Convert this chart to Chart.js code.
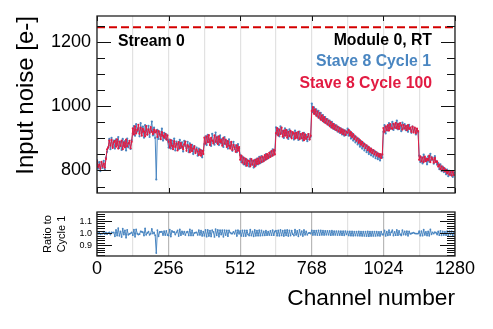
<!DOCTYPE html>
<html>
<head>
<meta charset="utf-8">
<script src="https://cdn.jsdelivr.net/npm/chart.js@4.4.1/dist/chart.umd.min.js"></script>
<style>
    html, body { margin: 0; padding: 0; background: #fff; }
    #wrap { position: relative; width: 493px; height: 329px; }
    #main { position: absolute; left: 0; top: 0; }
    #ratio { position: absolute; left: 0; top: 200px; }
</style>
</head>
<body>
<div id="wrap">
    <canvas id="main" width="493" height="200" style="width:493px;height:200px"></canvas>
    <canvas id="ratio" width="493" height="129" style="width:493px;height:129px"></canvas>
</div>
<script>
/**
 * Input noise per channel, Stave 8, cycle 1 vs cycle 100
 * Values, one sample every 4 channels (32 per ASIC of 128 channels)
 */
const channelStep = 4;
const channels = Array.from({ length: 320 }, (_, i) => i * channelStep);

const cycle1 = [
    832, 806, 826, 798, 824, 808, 830, 803, 840, 858, 872, 898, 866, 901, 874, 893, 868, 897, 879, 904, 870, 889, 864, 898, 876, 891, 862, 899, 872, 886, 867, 894,
    915, 938, 908, 944, 921, 931, 906, 947, 918, 936, 902, 941, 925, 912, 939, 904, 930, 952, 909, 933, 901, 772, 926, 898, 921, 906, 930, 893, 917, 899, 912, 894,
    871, 896, 868, 893, 874, 899, 862, 890, 881, 866, 895, 870, 887, 859, 892, 876, 868, 889, 857, 884, 863, 880, 851, 876, 858, 871, 846, 868, 852, 863, 841, 862,
    882, 906, 879, 911, 888, 897, 876, 914, 892, 880, 918, 886, 905, 879, 909, 884, 898, 873, 904, 881, 892, 868, 897, 872, 886, 861, 889, 866, 878, 857, 882, 868,
    848, 826, 843, 819, 838, 815, 834, 822, 812, 836, 818, 830, 809, 833, 815, 837, 819, 842, 823, 845, 827, 840, 832, 851, 836, 848, 841, 858, 845, 866, 849, 862,
    934, 912, 929, 906, 937, 915, 923, 901, 931, 909, 925, 898, 928, 904, 919, 911, 896, 924, 903, 918, 895, 921, 900, 914, 893, 917, 899, 910, 891, 913, 897, 905,
    1008, 981, 996, 975, 990, 968, 985, 962, 979, 956, 972, 950, 966, 946, 960, 941, 955, 934, 951, 930, 944, 926, 940, 921, 935, 917, 931, 912, 927, 908, 924, 911,
    930, 908, 922, 899, 916, 893, 909, 887, 903, 881, 898, 874, 891, 868, 886, 862, 880, 857, 875, 851, 869, 847, 864, 843, 861, 838, 856, 835, 852, 831, 849, 840,
    920, 941, 915, 936, 924, 947, 929, 938, 951, 926, 943, 932, 955, 928, 946, 936, 922, 949, 931, 944, 925, 939, 920, 942, 928, 917, 936, 922, 931, 912, 926, 918,
    846, 826, 841, 822, 849, 830, 838, 819, 844, 827, 852, 833, 840, 821, 845, 829, 818, 823, 804, 819, 798, 812, 795, 806, 788, 803, 782, 799, 786, 796, 780, 793
];

const cycle100 = [
    829, 811, 818, 806, 827, 812, 821, 809, 836, 866, 871, 893, 877, 895, 870, 888, 892, 874, 897, 868, 890, 876, 893, 866, 887, 872, 896, 875, 884, 892, 869, 889,
    931, 912, 937, 915, 926, 942, 914, 933, 908, 929, 921, 906, 938, 911, 928, 917, 935, 920, 913, 927, 918, 925, 904, 922, 912, 897, 919, 908, 902, 914, 896, 909,
    889, 871, 894, 877, 866, 891, 873, 884, 862, 888, 869, 885, 874, 866, 881, 890, 861, 879, 874, 857, 880, 860, 868, 875, 854, 866, 859, 848, 865, 846, 861, 851,
    902, 883, 906, 888, 910, 879, 901, 893, 884, 909, 889, 903, 882, 906, 888, 895, 877, 901, 883, 896, 873, 891, 877, 868, 889, 864, 880, 871, 858, 878, 861, 873,
    833, 846, 824, 840, 820, 836, 815, 831, 829, 813, 835, 818, 831, 812, 834, 820, 837, 822, 841, 826, 843, 829, 848, 834, 851, 838, 855, 842, 860, 846, 864, 850,
    916, 932, 909, 927, 913, 933, 905, 924, 908, 926, 902, 920, 907, 923, 900, 919, 915, 899, 917, 901, 920, 897, 913, 900, 916, 894, 912, 898, 904, 913, 896, 908,
    985, 997, 976, 990, 970, 984, 964, 978, 958, 971, 953, 966, 948, 960, 943, 955, 938, 950, 933, 945, 929, 940, 925, 936, 921, 932, 917, 928, 913, 925, 910, 921,
    917, 926, 909, 919, 904, 913, 898, 906, 892, 900, 886, 894, 880, 889, 875, 883, 869, 878, 863, 873, 858, 868, 854, 863, 850, 858, 846, 853, 843, 851, 839, 850,
    932, 920, 937, 925, 941, 924, 944, 931, 929, 945, 933, 948, 931, 944, 929, 947, 940, 927, 942, 930, 938, 925, 941, 929, 933, 920, 936, 918, 933, 916, 930, 922,
    833, 844, 828, 840, 826, 843, 829, 836, 832, 846, 826, 841, 835, 824, 839, 826, 828, 812, 818, 804, 813, 800, 808, 797, 802, 791, 798, 787, 795, 784, 797, 786
];

// ratio panel: cycle 1 relative to cycle 100
const ratio = cycle1.map((v, i) => v / cycle100[i]);

const limitLevel = 1245;      // dashed red line
const channelRange = [0, 1280];
const asicEdges = [0, 128, 256, 384, 512, 640, 768, 896, 1024, 1152, 1280];
const channelLabels = [0, 256, 512, 768, 1024, 1280];
const noiseMajor = [800, 1000, 1200];
const noiseMinor = [750, 850, 900, 950, 1050, 1100, 1150, 1250];
const ratioMajor = [0.9, 1.0, 1.1];
const ratioMinor = [0.82, 0.84, 0.86, 0.88, 0.92, 0.94, 0.96, 0.98, 1.02, 1.04, 1.06, 1.08, 1.12, 1.14, 1.16];

const BLUE = '#4a86c1';
const RED = '#e21b42';
const FONT = '"Liberation Sans", Arial, sans-serif';

const pts = arr => arr.map((v, i) => ({ x: channels[i], y: v }));

/**
 * ROOT-style frame with inward tick marks
 */
const frameTicks = {
    id: 'frameTicks',
    afterDatasetsDraw(chart, args, o) {
        const { ctx, chartArea: a, scales } = chart;
        const x = scales.x, y = scales.y;
        ctx.save();
        ctx.strokeStyle = '#111';
        ctx.lineWidth = 1;
        ctx.beginPath();
        const hTick = (v, len) => {
            const p = Math.round(y.getPixelForValue(v)) + 0.5;
            ctx.moveTo(a.left, p); ctx.lineTo(a.left + len, p);
            ctx.moveTo(a.right, p); ctx.lineTo(a.right - len, p);
        };
        o.yMajor.forEach(v => hTick(v, o.majorLen));
        o.yMinor.forEach(v => hTick(v, o.minorLen));
        (o.xMajor || []).forEach(v => {
            const p = Math.round(x.getPixelForValue(v)) + 0.5;
            ctx.moveTo(p, a.bottom); ctx.lineTo(p, a.bottom - o.xLen);
            ctx.moveTo(p, a.top); ctx.lineTo(p, a.top + o.xLen);
        });
        ctx.stroke();
        ctx.lineWidth = 1.3;
        ctx.strokeStyle = '#222';
        ctx.strokeRect(a.left, a.top, a.right - a.left, a.bottom - a.top);
        ctx.restore();
    }
};

/**
 * Panel labels (stream / module / legend text)
 */
const panelText = {
    id: 'panelText',
    afterDraw(chart) {
        const { ctx, chartArea: a } = chart;
        ctx.save();
        ctx.font = 'bold 15.8px ' + FONT;
        ctx.textBaseline = 'middle';
        ctx.textAlign = 'left';
        ctx.fillStyle = '#000';
        ctx.fillText('Stream 0', a.left + 21, a.top + 26);
        ctx.textAlign = 'right';
        ctx.fillText('Module 0, RT', a.right - 23, a.top + 25);
        ctx.fillStyle = BLUE;
        ctx.fillText('Stave 8 Cycle 1', a.right - 24, a.top + 46);
        ctx.fillStyle = RED;
        ctx.fillText('Stave 8 Cycle 100', a.right - 23, a.top + 68);
        ctx.restore();
    }
};

const seriesStyle = color => ({
    borderColor: color, backgroundColor: color, borderWidth: 1,
    pointRadius: 1.1, pointBorderWidth: 0, pointBackgroundColor: color
});

const mainChart = new Chart(document.getElementById('main'), {
    type: 'line',
    data: {
        datasets: [
            { label: 'limit', data: [{ x: channelRange[0], y: limitLevel }, { x: channelRange[1], y: limitLevel }],
              borderColor: '#d40000', borderWidth: 2, borderDash: [8, 4], pointRadius: 0, order: 0 },
            { label: 'Stave 8 Cycle 100', data: pts(cycle100), ...seriesStyle(RED), order: 1 },
            { label: 'Stave 8 Cycle 1', data: pts(cycle1), ...seriesStyle(BLUE), order: 2 }
        ]
    },
    options: {
        responsive: false,
        animation: false,
        events: [],
        layout: { padding: { left: 0, right: 38, top: 16, bottom: 0 } },
        plugins: {
            legend: { display: false },
            tooltip: { enabled: false },
            frameTicks: { yMajor: noiseMajor, yMinor: noiseMinor, majorLen: 14, minorLen: 8, xMajor: channelLabels, xLen: 5 }
        },
        scales: {
            x: {
                type: 'linear', min: channelRange[0], max: channelRange[1],
                ticks: { display: false },
                grid: { color: '#e2e2e2', lineWidth: 1.2, drawTicks: false },
                border: { display: false },
                afterBuildTicks: s => { s.ticks = asicEdges.map(v => ({ value: v })); },
                afterFit: s => { s.height = 7; s.paddingLeft = 0; s.paddingRight = 0; }
            },
            y: {
                min: 730, max: 1280,
                ticks: { font: { family: FONT, size: 18 }, color: '#000', padding: 6, callback: v => String(v) },
                grid: { display: false, drawTicks: false },
                border: { display: false },
                title: { display: true, text: 'Input noise [e-]', align: 'end', color: '#000',
                         font: { family: FONT, size: 24 }, padding: { top: 12, bottom: 0 } },
                afterBuildTicks: s => { s.ticks = noiseMajor.map(v => ({ value: v })); },
                afterFit: s => { s.width = 97; s.paddingTop = 0; s.paddingBottom = 0; }
            }
        }
    },
    plugins: [frameTicks, panelText]
});

const ratioChart = new Chart(document.getElementById('ratio'), {
    type: 'line',
    data: {
        datasets: [
            { label: 'Ratio to Cycle 1', data: pts(ratio), ...seriesStyle(BLUE), pointRadius: 0.9 }
        ]
    },
    options: {
        responsive: false,
        animation: false,
        events: [],
        layout: { padding: { left: 0, right: 38, top: 12, bottom: 0 } },
        plugins: {
            legend: { display: false },
            tooltip: { enabled: false },
            frameTicks: { yMajor: ratioMajor, yMinor: ratioMinor, majorLen: 15, minorLen: 8 }
        },
        scales: {
            x: {
                type: 'linear', min: channelRange[0], max: channelRange[1],
                ticks: {
                    autoSkip: false, maxRotation: 0, padding: 2, color: '#000',
                    font: { family: FONT, size: 18 },
                    callback: v => (channelLabels.includes(v) ? String(v) : '')
                },
                grid: {
                    drawTicks: false, lineWidth: 1.2,
                    color: c => (c.tick && channelLabels.includes(c.tick.value) ? '#b8b8b8' : '#e2e2e2')
                },
                border: { display: false },
                title: { display: true, text: 'Channel number', align: 'end', color: '#000',
                         font: { family: FONT, size: 22.7 }, padding: { top: 0, bottom: 17 } },
                afterBuildTicks: s => { s.ticks = asicEdges.map(v => ({ value: v })); },
                afterFit: s => { s.height = 73; s.paddingLeft = 0; s.paddingRight = 0; }
            },
            y: {
                min: 0.81, max: 1.175,
                ticks: { font: { family: FONT, size: 9 }, color: '#000', padding: 5, callback: v => v.toFixed(1) },
                grid: { display: false, drawTicks: false },
                border: { display: false },
                title: { display: true, text: ['Ratio to', 'Cycle 1'], color: '#000',
                         font: { family: FONT, size: 11, lineHeight: 1.25 }, padding: { top: 41, bottom: 0 } },
                afterBuildTicks: s => { s.ticks = ratioMajor.map(v => ({ value: v })); },
                afterFit: s => { s.width = 97; s.paddingTop = 0; s.paddingBottom = 0; }
            }
        }
    },
    plugins: [frameTicks]
});
</script>
</body>
</html>
